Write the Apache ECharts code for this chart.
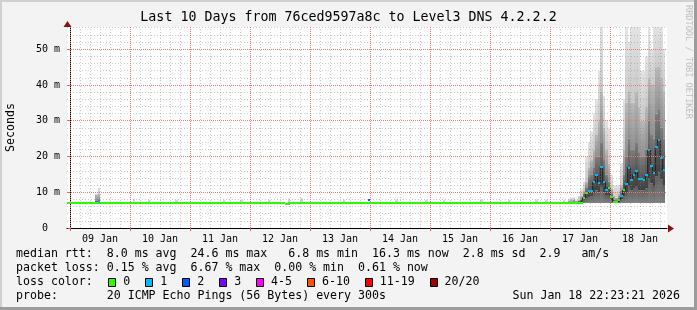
<!DOCTYPE html>
<html><head><meta charset="utf-8">
<script src="https://cdn.jsdelivr.net/npm/echarts@6/dist/echarts.min.js"></script>
<style>html,body{margin:0;padding:0;background:#f3f3f3}#c{width:697px;height:310px}</style>
</head><body><div id="c"></div>
<script>
// ---------- data (x = hours since 09 Jan 00:00, y = milliseconds) ----------
const titleText = 'Last 10 Days from 76ced9597a8c to Level3 DNS 4.2.2.2';
const dayLabels = ['09 Jan','10 Jan','11 Jan','12 Jan','13 Jan','14 Jan','15 Jan','16 Jan','17 Jan','18 Jan'];
const yTickValues = [0, 10, 20, 30, 40, 50];
const yTickLabels = ['0  ', '10 m', '20 m', '30 m', '40 m', '50 m'];

// flat zero-loss median runs
const baseStart = [-1.2, 86.1, 88.1];
const baseEnd   = [86.1, 88.1, 202.1];
const baseMs    = [7.1, 6.7, 7.1];

// isolated loss-coloured median spots in the quiet period
const spotHours = [11.6, 119.6];
const spotMs    = [7.3, 7.8];
const spotLoss  = [1, 2];

// hourly smoke bins: min, lower band, dark top, mid top, max
const smokeHours = [10.6, 11.6, 25.6, 31.6, 42.6, 61.6, 68.6, 79.6, 87.6, 92.6, 109.6, 130.6, 142.6, 149.6, 164.6, 175.6, 186.6, 190.6, 197.6, 199.6, 200.6, 201.6,
  202.6, 203.6, 204.6, 205.6, 206.6, 207.6, 208.6, 209.6, 210.6, 211.6, 212.6, 213.6, 214.6, 215.6, 216.6, 217.6, 218.6, 219.6,
  220.6, 221.6, 222.6, 223.6, 224.6, 225.6, 226.6, 227.6, 228.6, 229.6, 230.6, 231.6, 232.6, 233.6, 234.6, 235.6, 236.6, 237.6];
const smokeMin = [7.0, 7.0, 7.0, 7.0, 7.0, 7.0, 7.0, 7.0, 6.7, 7.0, 7.0, 7.0, 7.0, 7.0, 7.0, 7.0, 7.0, 7.0, 7.0, 7.0, 7.0, 7.0,
  7.0, 7.0, 7.0, 7.0, 7.0, 7.0, 7.0, 7.0, 7.0, 7.0, 7.0, 7.0, 7.0, 7.0, 7.0, 7.0, 7.0, 7.0,
  7.0, 7.0, 7.0, 7.0, 7.0, 7.0, 7.0, 7.0, 7.0, 7.0, 7.0, 7.0, 7.0, 7.0, 7.0, 7.0, 7.0, 7.0];
const smokeLo = [7.1, 7.1, 7.1, 7.1, 7.1, 7.1, 7.1, 7.1, 6.8, 7.1, 7.1, 7.1, 7.1, 7.1, 7.1, 7.1, 7.1, 7.1, 7.1, 7.1, 7.1, 7.1,
  7.0, 7.0, 7.0, 7.6, 8.2, 8.6, 8.8, 9.8, 10.5, 10.0, 11.5, 10.0, 9.0, 9.0, 7.8, 7.1, 7.1, 7.3,
  8.0, 8.8, 9.8, 11.5, 10.5, 11.0, 11.5, 10.5, 10.5, 10.5, 11.0, 14.0, 12.5, 11.5, 14.5, 15.5, 13.5, 12.0];
const smokeHi1 = [7.6, 7.8, 7.2, 7.2, 7.2, 7.2, 7.2, 7.2, 7.0, 7.2, 7.2, 7.2, 7.2, 7.2, 7.2, 7.2, 7.2, 7.2, 7.2, 7.3, 7.4, 7.5,
  7.4, 7.6, 8.0, 9.6, 11.2, 14.0, 15.0, 17.0, 20.0, 20.0, 24.0, 19.0, 15.0, 13.0, 9.5, 8.0, 7.8, 8.5,
  10.5, 15.0, 20.0, 25.0, 22.0, 22.0, 24.0, 21.0, 20.0, 20.0, 22.0, 30.0, 26.0, 25.0, 32.0, 33.0, 28.0, 25.0];
const smokeHi2 = [9.3, 9.6, 7.4, 7.4, 7.4, 7.4, 7.4, 7.4, 7.4, 7.4, 7.4, 7.4, 7.4, 7.4, 7.4, 7.4, 7.4, 7.4, 7.4, 7.6, 7.8, 8.0,
  7.6, 8.0, 9.0, 10.5, 13.0, 17.0, 19.0, 22.0, 26.0, 30.0, 38.0, 28.0, 22.0, 18.0, 11.0, 9.0, 8.5, 9.5,
  12.0, 22.0, 35.0, 38.0, 35.0, 35.0, 38.0, 34.0, 30.0, 30.0, 34.0, 42.0, 40.0, 40.0, 45.0, 45.0, 42.0, 38.0];
const smokeMax = [9.6, 11.3, 8.2, 8.0, 7.9, 7.9, 7.9, 8.0, 8.3, 8.4, 8.0, 8.0, 7.9, 7.9, 8.0, 8.0, 8.0, 8.0, 7.9, 8.2, 8.4, 8.6,
  8.0, 9.0, 11.0, 13.0, 20.0, 24.0, 27.0, 32.0, 36.0, 44.0, 56.2, 37.0, 30.0, 28.0, 15.0, 12.0, 12.0, 12.0,
  18.0, 36.0, 56.2, 52.0, 56.2, 56.2, 56.2, 56.2, 44.0, 44.0, 48.0, 56.2, 50.0, 56.2, 56.2, 56.2, 56.2, 50.0];

// active-period median (hourly) and loss bucket index
const medHours = [202.6, 203.6, 204.6, 205.6, 206.6, 207.6, 208.6, 209.6, 210.6, 211.6, 212.6, 213.6, 214.6, 215.6, 216.6, 217.6, 218.6, 219.6,
  220.6, 221.6, 222.6, 223.6, 224.6, 225.6, 226.6, 227.6, 228.6, 229.6, 230.6, 231.6, 232.6, 233.6, 234.6, 235.6, 236.6, 237.6];
const medMs = [7.1, 7.1, 7.1, 8.5, 9.9, 10.4, 10.4, 12.8, 14.9, 12.7, 17.1, 12.8, 10.6, 11.2, 8.7, 7.3, 7.3, 7.7,
  9.0, 10.6, 12.3, 16.9, 13.4, 14.9, 15.9, 13.8, 13.8, 13.4, 14.9, 21.8, 17.4, 15.4, 22.6, 24.7, 19.6, 16.2];
const medLoss = [0, 0, 0, 0, 0, 1, 1, 1, 1, 1, 1, 1, 1, 0, 0, 0, 0, 0,
  1, 0, 1, 1, 1, 1, 1, 1, 1, 1, 1, 1, 1, 1, 1, 1, 1, 1];

const lossLabels = ['0', '1', '2', '3', '4-5', '6-10', '11-19', '20/20'];
const lossColors = ['#26ff00', '#00b8ff', '#0059ff', '#7e00ff', '#ff00ff', '#ff5500', '#ff0000', '#a10000'];

const legendLines = [
  'median rtt:  8.0 ms avg  24.6 ms max   6.8 ms min  16.3 ms now  2.8 ms sd  2.9   am/s',
  'packet loss: 0.15 % avg  6.67 % max  0.00 % min  0.61 % now',
  'loss color:',
  'probe:       20 ICMP Echo Pings (56 Bytes) every 300s'
];
const stampText = 'Sun Jan 18 22:23:21 2026';
const sideText = 'RRDTOOL / TOBI OETIKER';

// ---------- chart ----------
const MONO = 'DejaVu Sans Mono';
const X_MIN = -1.2, X_MAX = 238.8, Y_MAX = 56.2;
const smokeGrad = [['#808080', '#5e5e5e'], ['#3e3e3e', '#7c7c7c'], ['#8e8e8e', '#b9b9b9'], ['#c9c9c9', '#e3e3e3']];

const smokeData = smokeHours.map((h, i) => [h, smokeMin[i], smokeLo[i], smokeHi1[i], smokeHi2[i], smokeMax[i]]);
const medData = medHours.map((h, i) => [h, medMs[i], medLoss[i]]);
const spotData = spotHours.map((h, i) => [h, spotMs[i], spotLoss[i]]);
const baseData = baseStart.map((s, i) => [s, baseEnd[i], baseMs[i]]);

const RED = { color: '#e87a7a', type: [1, 1], width: 1 };
const GRAY = { color: 'rgba(130,130,130,0.42)', type: [1, 2], width: 1 };
const vLines = [];
for (let h = 0; h <= 236; h += 4) vLines.push({ xAxis: h, lineStyle: h % 24 === 0 ? RED : GRAY });
const hLines = [];
for (let v = 2; v <= 56; v += 2) hLines.push({ yAxis: v, lineStyle: v % 10 === 0 ? RED : GRAY });

function markerItem(params, api) {
  const h = api.value(0), v = api.value(1), loss = api.value(2);
  const a = api.coord([h - 0.5, v]);
  const b = api.coord([h + 0.5, v]);
  const x0 = Math.round(a[0]), x1 = Math.round(b[0]);
  return { type: 'rect', shape: { x: x0, y: Math.round(a[1]) - 1, width: x1 - x0, height: 2 }, style: { fill: lossColors[loss] } };
}

const chart = echarts.init(document.getElementById('c'), null, { renderer: 'canvas' });

const graphics = [];
graphics.push({ type: 'rect', shape: { x: 0, y: 0, width: 697, height: 2 }, style: { fill: '#d0d0d0' }, silent: true });
graphics.push({ type: 'rect', shape: { x: 0, y: 0, width: 2, height: 310 }, style: { fill: '#d0d0d0' }, silent: true });
graphics.push({ type: 'rect', shape: { x: 0, y: 307, width: 697, height: 3 }, style: { fill: '#9c9c9c' }, silent: true });
graphics.push({ type: 'rect', shape: { x: 694, y: 0, width: 3, height: 310 }, style: { fill: '#9c9c9c' }, silent: true });
graphics.push({ type: 'text', x: 348.5, y: 18, style: { text: titleText, font: '13.3px "' + MONO + '"', fill: '#000', align: 'center', verticalAlign: 'middle' }, silent: true });
graphics.push({ type: 'text', x: 10.5, y: 127.5, rotation: Math.PI / 2, style: { text: 'Seconds', font: '11.6px "' + MONO + '"', fill: '#000', align: 'center', verticalAlign: 'middle' }, silent: true });
graphics.push({ type: 'text', x: 688.5, y: 5, rotation: -Math.PI / 2, style: { text: sideText, font: '8.6px "' + MONO + '"', fill: '#c0c0c0', align: 'left', verticalAlign: 'middle' }, silent: true });
graphics.push({ type: 'polygon', shape: { points: [[668, 224.5], [674, 228.5], [668, 232.5]] }, style: { fill: '#8b1111' }, silent: true, z: 10 });
graphics.push({ type: 'polygon', shape: { points: [[63.5, 27], [67.5, 21], [71.5, 27]] }, style: { fill: '#8b1111' }, silent: true, z: 10 });
const lineY = [254.3, 268.3, 282, 296];
legendLines.forEach((t, i) => {
  graphics.push({ type: 'text', x: 16, y: lineY[i], style: { text: t, font: '11.6px "' + MONO + '"', fill: '#000', align: 'left', verticalAlign: 'middle' }, silent: true });
});
graphics.push({ type: 'text', x: 680, y: lineY[3], style: { text: stampText, font: '11.6px "' + MONO + '"', fill: '#000', align: 'right', verticalAlign: 'middle' }, silent: true });
let sx = 108.3;
lossLabels.forEach((lab, i) => {
  graphics.push({ type: 'rect', shape: { x: Math.round(sx) + 0.5, y: 278.5, width: 7, height: 8 }, style: { fill: lossColors[i], stroke: '#000', lineWidth: 1 }, silent: true });
  const lx = sx + 15;
  graphics.push({ type: 'text', x: lx, y: lineY[2], style: { text: lab, font: '11.6px "' + MONO + '"', fill: '#000', align: 'left', verticalAlign: 'middle' }, silent: true });
  sx = lx + lab.length * 6.95 + 15;
});

const midnightHours = dayLabels.map((d, i) => i * 24);
const noonHours = dayLabels.map((d, i) => i * 24 + 12);

chart.setOption({
  animation: false,
  backgroundColor: '#f3f3f3',
  grid: { left: 67, right: 30, top: 27, bottom: 82, show: true, backgroundColor: '#ffffff', borderWidth: 0 },
  xAxis: {
    type: 'value', min: X_MIN, max: X_MAX,
    axisLine: { show: true, onZero: false, lineStyle: { color: '#000', width: 1 } },
    axisTick: { show: true, customValues: midnightHours, length: 3, lineStyle: { color: '#e05050' } },
    axisLabel: { customValues: noonHours, margin: 6, fontFamily: MONO, fontSize: 10, color: '#000',
      formatter: v => dayLabels[noonHours.indexOf(v)] },
    splitLine: { show: false }
  },
  yAxis: {
    type: 'value', min: 0, max: Y_MAX,
    axisLine: { show: true, lineStyle: { color: '#000', width: 1 } },
    axisTick: { show: true, customValues: yTickValues, length: 2, lineStyle: { color: '#e05050' } },
    axisLabel: { customValues: yTickValues, margin: 7, fontFamily: MONO, fontSize: 10, color: '#000',
      formatter: v => yTickLabels[yTickValues.indexOf(v)] },
    splitLine: { show: false }
  },
  graphic: graphics,
  series: [
    {
      name: 'smoke', type: 'custom', z: 1, silent: true, clip: true,
      data: smokeData,
      renderItem: (params, api) => {
        const h = api.value(0);
        const vals = [api.value(1), api.value(2), api.value(3), api.value(4), api.value(5)];
        const children = [];
        for (let k = 0; k < 4; k++) {
          if (vals[k + 1] <= vals[k]) continue;
          const p0 = api.coord([h - 0.5, vals[k]]);
          const p1 = api.coord([h + 0.5, vals[k + 1]]);
          const x0 = Math.round(p0[0]), x1 = Math.round(p1[0]);
          children.push({ type: 'rect', shape: { x: x0, y: p1[1], width: x1 - x0, height: p0[1] - p1[1] },
            style: { fill: new echarts.graphic.LinearGradient(0, 1, 0, 0, [{ offset: 0, color: smokeGrad[k][0] }, { offset: 1, color: smokeGrad[k][1] }]) } });
        }
        return { type: 'group', children };
      }
    },
    {
      name: 'grid', type: 'line', z: 2, silent: true, data: [[X_MIN, -10]], symbol: 'none', lineStyle: { opacity: 0 },
      markLine: { silent: true, symbol: ['none', 'none'], label: { show: false }, animation: false, data: vLines.concat(hLines) }
    },
    {
      name: 'base', type: 'custom', z: 3, silent: true, data: baseData,
      renderItem: (params, api) => {
        const a = api.coord([api.value(0), api.value(2)]);
        const b = api.coord([api.value(1), api.value(2)]);
        const x0 = Math.round(a[0]), x1 = Math.round(b[0]);
        return { type: 'rect', shape: { x: x0, y: Math.round(a[1]) - 1, width: x1 - x0, height: 2 }, style: { fill: lossColors[0] } };
      }
    },
    {
      name: 'connector', type: 'line', z: 3, silent: true, step: 'middle', symbol: 'none',
      data: medHours.map((h, i) => [h, medMs[i]]),
      lineStyle: { color: '#1a1a1a', width: 1 }
    },
    { name: 'median', type: 'custom', z: 4, silent: true, data: medData, renderItem: markerItem },
    { name: 'spots', type: 'custom', z: 4, silent: true, data: spotData, renderItem: markerItem }
  ]
});
</script>
</body></html>
